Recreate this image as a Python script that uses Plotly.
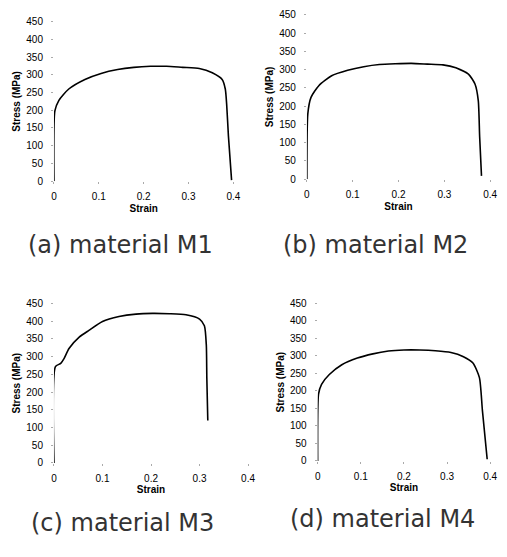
import plotly.graph_objects as go

W, H = 507, 557

# strain-stress data
m1_strain = [0, 0.002, 0.011, 0.033, 0.069, 0.105, 0.142, 0.178, 0.215, 0.251, 0.287, 0.324, 0.353, 0.375, 0.382, 0.385, 0.389, 0.396]
m1_stress = [0, 198, 228, 260, 287, 304, 315, 321, 324, 324, 321, 318, 306, 287, 260, 218, 127, 3]

m2_strain = [0, 0.002, 0.009, 0.026, 0.054, 0.089, 0.124, 0.158, 0.193, 0.228, 0.263, 0.297, 0.325, 0.353, 0.367, 0.374, 0.377, 0.381]
m2_stress = [0, 179, 224, 256, 283, 298, 308, 314, 316, 317, 315, 313, 305, 287, 260, 215, 116, 9]

m3_strain = [0, 0.003, 0.014, 0.021, 0.031, 0.052, 0.072, 0.100, 0.134, 0.169, 0.203, 0.238, 0.272, 0.300, 0.310, 0.314, 0.315, 0.317]
m3_stress = [0, 272, 281, 295, 323, 355, 374, 399, 413, 420, 422, 421, 418, 406, 387, 332, 240, 120]

m4_strain = [0, 0.002, 0.009, 0.027, 0.056, 0.092, 0.128, 0.164, 0.200, 0.237, 0.273, 0.309, 0.338, 0.360, 0.375, 0.382, 0.393]
m4_stress = [0, 191, 219, 247, 275, 294, 306, 314, 317, 317, 315, 310, 298, 280, 238, 144, 5]

captions = ["(a) material M1", "(b) material M2", "(c) material M3", "(d) material M4"]
x_ticks = [0, 0.1, 0.2, 0.3, 0.4]
x_tick_text = ["0", "0.1", "0.2", "0.3", "0.4"]
y_ticks = [0, 50, 100, 150, 200, 250, 300, 350, 400, 450]

series = [(m1_strain, m1_stress), (m2_strain, m2_stress), (m3_strain, m3_stress), (m4_strain, m4_stress)]

# panel pixel boxes: (x0, x1, ybottom, ytop)
boxes = [(52, 235, 179, 16), (310, 497, 177, 9), (52, 250, 467, 304), (321, 497, 465, 304)]
cap_pos = [(120, 244), (380, 244), (122, 528), (387, 524)]

fig = go.Figure()
layout = {}
for i, ((xs, ys), (x0, x1, yb, yt)) in enumerate(zip(series, boxes)):
    n = "" if i == 0 else str(i + 1)
    fig.add_trace(go.Scatter(x=xs, y=ys, mode="lines", line=dict(color="black", width=1.6, shape="spline", smoothing=0.6),
                             xaxis="x" + n, yaxis="y" + n, showlegend=False, hoverinfo="skip"))
    layout["xaxis" + n] = dict(domain=[x0 / W, x1 / W], range=[0, 0.4], tickvals=x_ticks, ticktext=x_tick_text,
                               anchor="y" + n, showgrid=False, zeroline=False, showline=False,
                               ticks="outside", ticklen=2, tickcolor="#aaa", ticklabelstandoff=4,
                               tickfont=dict(family="Liberation Sans", size=10, color="black"),
                               title=dict(text="<b>Strain</b>", font=dict(family="Liberation Sans", size=10, color="black"), standoff=3))
    layout["yaxis" + n] = dict(domain=[1 - yb / H, 1 - yt / H], range=[0, 450], tickvals=y_ticks,
                               anchor="x" + n, showgrid=False, zeroline=False, showline=False,
                               ticks="outside", ticklen=2, tickcolor="#aaa", ticklabelstandoff=6,
                               tickfont=dict(family="Liberation Sans", size=10, color="black"),
                               title=dict(text="<b>Stress (MPa)</b>", font=dict(family="Liberation Sans", size=10, color="black"), standoff=3))

annotations = []
for txt, (cx, cy) in zip(captions, cap_pos):
    annotations.append(dict(text=txt, x=cx / W, y=1 - cy / H, xref="paper", yref="paper", showarrow=False,
                            xanchor="center", yanchor="middle",
                            font=dict(family="DejaVu Sans", size=24, color="#333")))

fig.update_layout(width=W, height=H, margin=dict(l=0, r=0, t=0, b=0), paper_bgcolor="white", plot_bgcolor="white",
                  annotations=annotations, **layout)
fig.write_html("out.html", config={"displayModeBar": False}, post_script="document.body.style.margin='0px';")
